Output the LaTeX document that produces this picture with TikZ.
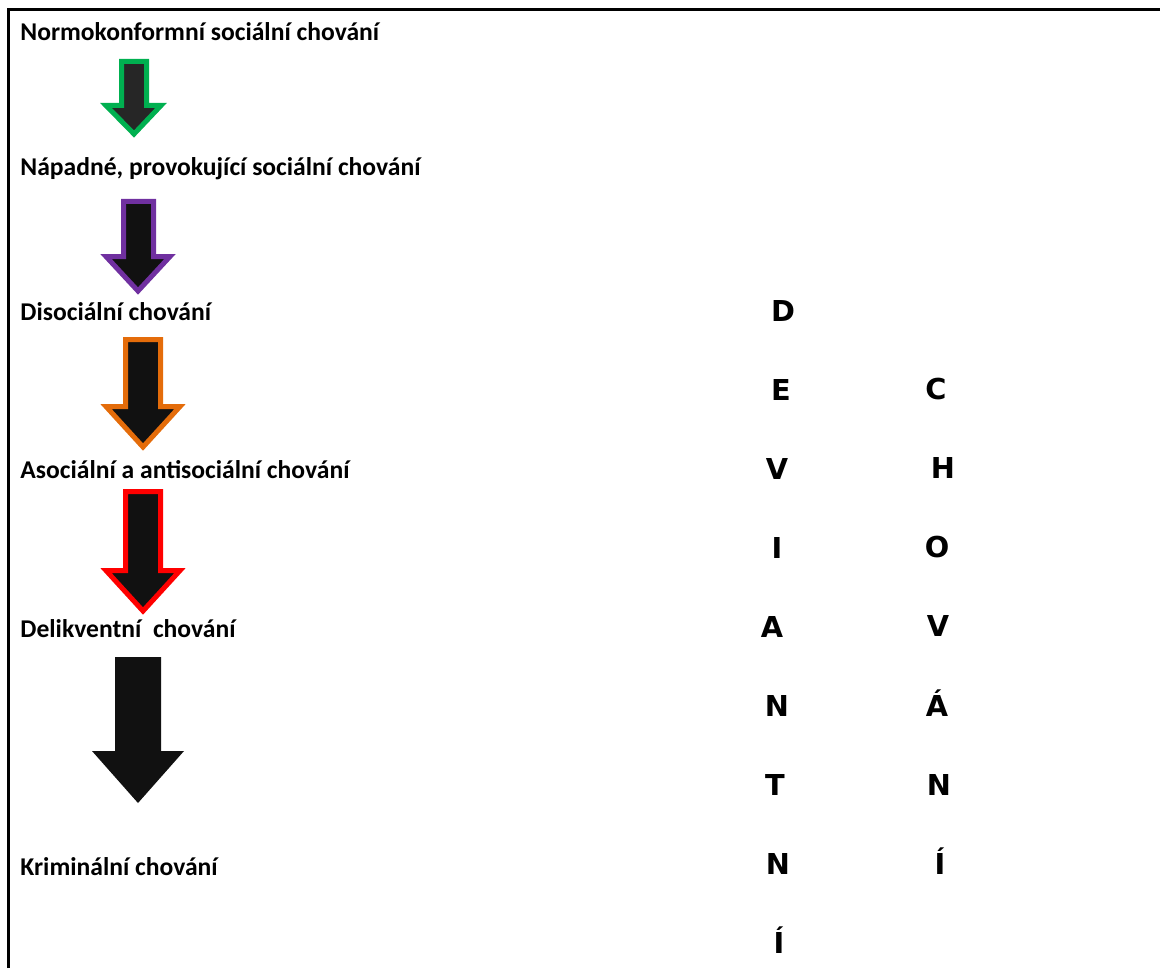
\documentclass[tikz,border=0pt]{standalone}
\usepackage{fontspec}
\setmainfont{Carlito}
\newfontfamily\capsfont{DejaVu Sans}

\definecolor{zelena}{HTML}{00B050}
\definecolor{fialova}{HTML}{7030A0}
\definecolor{oranzova}{HTML}{E46C0A}
\definecolor{cervena}{HTML}{FF0000}
\definecolor{tmava}{HTML}{262626}
\definecolor{cerna}{HTML}{111111}

\begin{document}
\begin{tikzpicture}[x=0.5pt,y=-0.5pt]
        \tikzstyle{level}=[anchor=base west,inner sep=0pt,font=\fontsize{12.8}{15}\selectfont\bfseries]
        \tikzstyle{letter}=[anchor=base,inner sep=0pt,font=\capsfont\fontsize{14.4}{16}\selectfont\bfseries]
        \tikzstyle{blockarrow}=[line width=2.5pt,line join=miter,fill=cerna]

        \useasboundingbox (0,0) rectangle (1160,968);
        \draw[line width=1.5pt] (8,968) -- (8,10) -- (1160,10);

        % levels of behaviour
        \node[level] (norm)  at (20,41)  {Normokonformní sociální chování};
        \node[level] (napad) at (20,176) {Nápadné, provokující sociální chování};
        \node[level] (disoc) at (20,320) {Disociální chování};
        \node[level] (asoc)  at (20,478) {Asociální a antisociální chování};
        \node[level] (delik) at (20,637) {Delikventní\ \ chování};
        \node[level] (krim)  at (20,875) {Kriminální chování};

        % arrows between the levels
        \filldraw[blockarrow,draw=zelena,fill=tmava] (121.5,61.5) -- (146.5,61.5) -- (146.5,105.5)
            -- (161,105.5) -- (134,134) -- (106,105.5) -- (121.5,105.5) -- cycle;  % norm->napad
        \filldraw[blockarrow,draw=fialova] (123.5,201.5) -- (153.5,201.5) -- (153.5,256.5)
            -- (170,256.5) -- (138,291) -- (106,256.5) -- (123.5,256.5) -- cycle;  % napad->disoc
        \filldraw[blockarrow,draw=oranzova] (125.5,339.5) -- (160.5,339.5) -- (160.5,406.5)
            -- (180,406.5) -- (143,447) -- (106,406.5) -- (125.5,406.5) -- cycle;  % disoc->asoc
        \filldraw[blockarrow,draw=cervena] (125.5,491.5) -- (160.5,491.5) -- (160.5,570.5)
            -- (180,570.5) -- (143,611) -- (106,570.5) -- (125.5,570.5) -- cycle;  % asoc->delik
        \fill[cerna] (115,657) -- (161,657) -- (161,751)
            -- (184,751) -- (138,803) -- (92,751) -- (115,751) -- cycle;           % delik->krim

        % vertical words
        \foreach \l/\x [count=\i] in {D/783,E/781,V/777,I/777,A/772,N/777,T/775,N/778,Í/779}
            \node[letter] (dev\i) at (\x,{321+(\i-1)*79}) {\l};
        \foreach \l/\x [count=\i] in {C/936,H/943,O/937,V/938,Á/937,N/939,Í/940}
            \node[letter] (chov\i) at (\x,{399+(\i-1)*79.3}) {\l};
\end{tikzpicture}
\end{document}
